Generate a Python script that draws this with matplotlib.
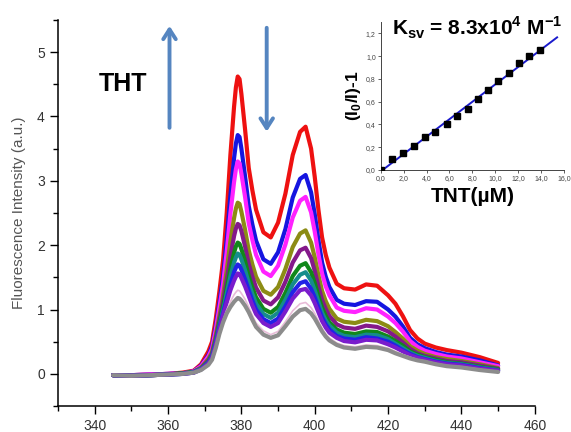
import numpy as np
import matplotlib
matplotlib.use("Agg")
import matplotlib.pyplot as plt
from matplotlib.ticker import MultipleLocator, FuncFormatter

plt.rcParams['font.family'] = ['Liberation Sans', 'DejaVu Sans']
plt.rcParams['mathtext.fontset'] = 'custom'
plt.rcParams['mathtext.rm'] = 'Liberation Sans'
plt.rcParams['mathtext.bf'] = 'Liberation Sans:bold'

# emission wavelengths (nm)
wavelength = [345, 350, 355, 360, 364, 367, 369, 371, 372, 373, 374, 375, 376, 377,
              378, 378.5, 379, 379.5, 380, 381, 382, 383, 384, 386, 388, 390, 392,
              394, 396, 397.5, 399, 400, 401, 402, 403, 404, 406, 408, 411, 414,
              417, 420, 422, 424, 426, 428, 430, 433, 436, 440, 445, 450]

# spectra, from highest to lowest intensity
spec_red = [-0.02, -0.02, -0.01, 0.00, 0.02, 0.05, 0.15, 0.35, 0.50, 0.85, 1.28, 1.76, 2.50, 3.40,
            4.15, 4.45, 4.62, 4.58, 4.35, 3.80, 3.20, 2.85, 2.55, 2.20, 2.12, 2.35, 2.80,
            3.40, 3.76, 3.84, 3.50, 3.06, 2.55, 2.12, 1.85, 1.65, 1.40, 1.33, 1.31, 1.39,
            1.37, 1.22, 1.09, 0.90, 0.68, 0.55, 0.47, 0.41, 0.37, 0.33, 0.26, 0.17]
spec_blue = [-0.02, -0.02, -0.01, 0.00, 0.01, 0.04, 0.13, 0.29, 0.43, 0.73, 1.11, 1.51, 2.09, 2.77,
             3.35, 3.58, 3.71, 3.68, 3.50, 3.07, 2.61, 2.32, 2.07, 1.78, 1.71, 1.89, 2.25,
             2.74, 3.03, 3.09, 2.82, 2.48, 2.08, 1.73, 1.51, 1.35, 1.15, 1.09, 1.07, 1.13,
             1.12, 1.00, 0.89, 0.74, 0.56, 0.46, 0.40, 0.34, 0.30, 0.27, 0.21, 0.13]
spec_magenta = [-0.02, -0.02, -0.01, 0.00, 0.01, 0.04, 0.12, 0.27, 0.39, 0.68, 1.03, 1.39, 1.90, 2.49,
                2.98, 3.18, 3.30, 3.27, 3.11, 2.75, 2.34, 2.08, 1.85, 1.59, 1.52, 1.68, 2.01,
                2.43, 2.69, 2.75, 2.51, 2.21, 1.86, 1.56, 1.36, 1.22, 1.03, 0.98, 0.96, 1.02,
                1.00, 0.89, 0.79, 0.66, 0.51, 0.42, 0.36, 0.31, 0.27, 0.24, 0.18, 0.12]
spec_olive = [-0.02, -0.03, -0.02, -0.01, 0.01, 0.03, 0.10, 0.23, 0.34, 0.59, 0.90, 1.21, 1.61, 2.06,
              2.42, 2.57, 2.66, 2.64, 2.52, 2.24, 1.92, 1.70, 1.51, 1.29, 1.23, 1.35, 1.63,
              1.97, 2.18, 2.23, 2.04, 1.81, 1.53, 1.29, 1.13, 1.01, 0.86, 0.81, 0.79, 0.84,
              0.82, 0.74, 0.65, 0.55, 0.43, 0.36, 0.31, 0.26, 0.23, 0.20, 0.15, 0.09]
spec_purple = [-0.02, -0.03, -0.02, -0.01, 0.01, 0.03, 0.09, 0.21, 0.31, 0.55, 0.84, 1.12, 1.46, 1.83,
               2.14, 2.26, 2.33, 2.31, 2.22, 1.98, 1.71, 1.51, 1.34, 1.14, 1.08, 1.19, 1.43,
               1.73, 1.92, 1.96, 1.80, 1.60, 1.36, 1.15, 1.01, 0.90, 0.77, 0.72, 0.70, 0.75,
               0.73, 0.66, 0.58, 0.49, 0.39, 0.32, 0.28, 0.24, 0.20, 0.18, 0.13, 0.08]
spec_green = [-0.02, -0.03, -0.02, -0.01, 0.01, 0.03, 0.08, 0.19, 0.29, 0.51, 0.79, 1.04, 1.33, 1.63,
              1.88, 1.98, 2.04, 2.02, 1.94, 1.75, 1.52, 1.34, 1.19, 1.01, 0.95, 1.04, 1.26,
              1.52, 1.68, 1.72, 1.58, 1.41, 1.21, 1.03, 0.90, 0.80, 0.69, 0.64, 0.62, 0.66,
              0.65, 0.58, 0.51, 0.44, 0.35, 0.30, 0.26, 0.22, 0.18, 0.16, 0.11, 0.07]
spec_teal = [-0.02, -0.03, -0.02, -0.01, 0.00, 0.03, 0.08, 0.18, 0.28, 0.49, 0.75, 0.99, 1.25, 1.51,
             1.73, 1.81, 1.87, 1.85, 1.78, 1.61, 1.41, 1.24, 1.09, 0.93, 0.87, 0.95, 1.15,
             1.39, 1.54, 1.58, 1.45, 1.30, 1.12, 0.95, 0.83, 0.75, 0.64, 0.59, 0.57, 0.61,
             0.60, 0.54, 0.47, 0.40, 0.33, 0.28, 0.25, 0.20, 0.17, 0.15, 0.10, 0.06]
spec_blue2 = [-0.02, -0.03, -0.02, -0.01, 0.00, 0.02, 0.07, 0.17, 0.26, 0.47, 0.72, 0.94, 1.17, 1.39,
              1.58, 1.65, 1.70, 1.68, 1.62, 1.47, 1.30, 1.14, 1.00, 0.85, 0.79, 0.86, 1.05,
              1.27, 1.41, 1.44, 1.32, 1.19, 1.03, 0.88, 0.77, 0.69, 0.59, 0.55, 0.53, 0.57,
              0.55, 0.50, 0.44, 0.37, 0.31, 0.26, 0.23, 0.19, 0.16, 0.14, 0.09, 0.05]
spec_violet = [-0.02, -0.03, -0.02, -0.01, 0.00, 0.02, 0.07, 0.16, 0.25, 0.45, 0.69, 0.91, 1.11, 1.30,
               1.45, 1.51, 1.56, 1.55, 1.49, 1.36, 1.21, 1.06, 0.93, 0.79, 0.73, 0.79, 0.97,
               1.17, 1.30, 1.32, 1.22, 1.10, 0.96, 0.82, 0.72, 0.64, 0.56, 0.51, 0.49, 0.53,
               0.52, 0.46, 0.41, 0.35, 0.29, 0.25, 0.22, 0.18, 0.15, 0.13, 0.08, 0.05]
spec_pink = [-0.02, -0.03, -0.02, -0.01, 0.00, 0.02, 0.06, 0.15, 0.23, 0.42, 0.64, 0.83, 0.99, 1.12,
             1.23, 1.27, 1.30, 1.29, 1.25, 1.16, 1.04, 0.91, 0.79, 0.67, 0.61, 0.66, 0.81,
             0.98, 1.09, 1.11, 1.03, 0.94, 0.82, 0.71, 0.62, 0.56, 0.48, 0.44, 0.42, 0.45,
             0.44, 0.40, 0.35, 0.30, 0.26, 0.22, 0.20, 0.16, 0.13, 0.11, 0.07, 0.03]
spec_gray = [-0.02, -0.03, -0.02, -0.01, 0.00, 0.02, 0.06, 0.14, 0.22, 0.40, 0.62, 0.80, 0.94, 1.04,
             1.12, 1.15, 1.18, 1.17, 1.14, 1.06, 0.96, 0.84, 0.73, 0.61, 0.56, 0.60, 0.74,
             0.89, 0.99, 1.01, 0.94, 0.86, 0.76, 0.66, 0.58, 0.52, 0.45, 0.41, 0.39, 0.42,
             0.41, 0.37, 0.32, 0.28, 0.24, 0.21, 0.19, 0.15, 0.12, 0.10, 0.06, 0.03]

spectra = [spec_red, spec_blue, spec_magenta, spec_olive, spec_purple, spec_green,
           spec_teal, spec_blue2, spec_violet, spec_pink, spec_gray]
colors = ['#ee1111', '#1515e0', '#ff22ff', '#8c8c14', '#84198a', '#11881a',
          '#168c8c', '#2222e6', '#7a1ccc', '#e8bcd8', '#8c8c8c']
widths = [3.0, 3.0, 3.0, 3.0, 3.0, 3.0, 3.0, 3.0, 3.0, 1.2, 3.0]

# Stern-Volmer data for the inset
tnt_um = [0.0, 0.96, 1.92, 2.91, 3.87, 4.77, 5.76, 6.69, 7.59, 8.52, 9.39, 10.26,
          11.19, 12.09, 12.97, 13.9]
i0_over_i_minus1 = [0.0, 0.094, 0.146, 0.21, 0.287, 0.33, 0.40, 0.47, 0.54, 0.62,
                    0.70, 0.78, 0.855, 0.94, 1.0, 1.05]

fig = plt.figure(figsize=(5.71, 4.32), dpi=100)
ax = fig.add_axes([0.1016, 0.060, 0.835, 0.894])

for y, c, lw in zip(spectra, colors, widths):
    ax.plot(wavelength, y, color=c, lw=lw, solid_capstyle='round', solid_joinstyle='round')

ax.set_xlim(330, 460)
ax.set_ylim(-0.5, 5.5)
ax.xaxis.set_major_locator(MultipleLocator(20))
ax.xaxis.set_minor_locator(MultipleLocator(10))
ax.yaxis.set_major_locator(MultipleLocator(1))
ax.yaxis.set_minor_locator(MultipleLocator(0.5))
ax.set_xticks(range(340, 461, 20))
for s in ['top', 'right']:
    ax.spines[s].set_visible(False)
for s in ['left', 'bottom']:
    ax.spines[s].set_linewidth(1.1)
ax.tick_params(which='major', length=6, width=1.0, labelsize=10, labelcolor='#333333')
ax.tick_params(which='minor', length=3.5, width=1.0)
ax.set_ylabel('Fluorescence Intensity (a.u.)', fontsize=11, color='#555555', labelpad=8)

ax.text(347.6, 4.5, 'THT', fontsize=18, fontweight='bold', ha='center', va='center')
arrow_col = '#5585c0'
ax.annotate('', xy=(360.4, 5.45), xytext=(360.4, 3.78),
            arrowprops=dict(arrowstyle='->,head_width=0.45,head_length=0.7', lw=2.8, color=arrow_col))
ax.annotate('', xy=(386.9, 3.72), xytext=(386.9, 5.42),
            arrowprops=dict(arrowstyle='->,head_width=0.45,head_length=0.7', lw=2.8, color=arrow_col))

# inset: Stern-Volmer plot
ins = fig.add_axes([0.6667, 0.6065, 0.321, 0.3425])
ins.patch.set_alpha(0)
coef = np.polyfit(tnt_um, i0_over_i_minus1, 1)
fit_x = np.array([0.0, 15.4])
ins.plot(fit_x, np.polyval(coef, fit_x), color='#1a1acc', lw=1.4, zorder=2)
ins.plot(tnt_um, i0_over_i_minus1, 's', color='black', ms=4.5, zorder=3)
ins.set_xlim(0, 16)
ins.set_ylim(0, 1.3)
ins.xaxis.set_major_locator(MultipleLocator(2))
ins.yaxis.set_major_locator(MultipleLocator(0.2))
comma = FuncFormatter(lambda v, p: f'{v:.1f}'.replace('.', ','))
ins.xaxis.set_major_formatter(comma)
ins.yaxis.set_major_formatter(comma)
for s in ['top', 'right']:
    ins.spines[s].set_visible(False)
for s in ['left', 'bottom']:
    ins.spines[s].set_linewidth(0.7)
    ins.spines[s].set_color('#444444')
ins.tick_params(length=2, width=0.6, labelsize=5, labelcolor='#444444', pad=1.5, colors='#444444')
ins.set_xlabel('TNT(µM)', fontsize=15, fontweight='bold', labelpad=4)
ins.set_ylabel(r'(I$_{\mathbf{0}}$/I)-1', fontsize=12.5, fontweight='bold', labelpad=2)
fig.text(0.835, 0.935, r'K$_{\mathbf{sv}}$ = 8.3x10$^{\mathbf{4}}$ M$^{\mathbf{-1}}$',
         fontsize=15, fontweight='bold', ha='center', va='center')

fig.savefig('out.png', dpi=100)
